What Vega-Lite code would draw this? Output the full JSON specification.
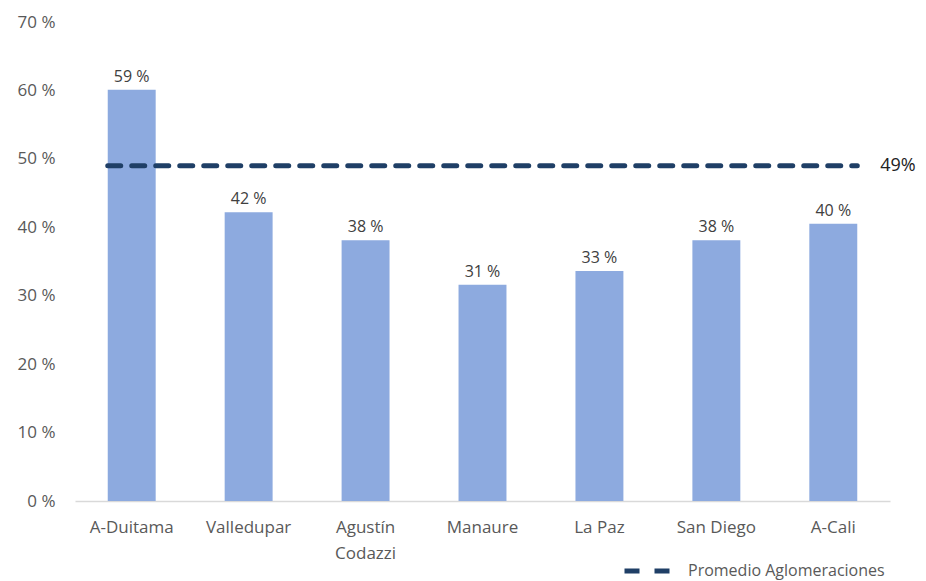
{
  "$schema": "https://vega.github.io/schema/vega-lite/v6.json",
  "autosize": "none",
  "width": 815,
  "height": 479,
  "padding": {"left": 75, "top": 22, "right": 36, "bottom": 80},
  "background": "white",
  "config": {"view": {"stroke": null}, "font": "Open Sans"},
  "datasets": {
    "bars": [
      {"city": "A-Duitama", "value": 60.1, "label": "59 %"},
      {"city": "Valledupar", "value": 42.2, "label": "42 %"},
      {"city": "Agustín Codazzi", "value": 38.1, "label": "38 %"},
      {"city": "Manaure", "value": 31.6, "label": "31 %"},
      {"city": "La Paz", "value": 33.6, "label": "33 %"},
      {"city": "San Diego", "value": 38.1, "label": "38 %"},
      {"city": "A-Cali", "value": 40.5, "label": "40 %"}
    ],
    "avg": [
      {"start": "A-Duitama", "end": "A-Cali", "avg": 49, "serie": "Promedio Aglomeraciones", "label": "49%"}
    ]
  },
  "layer": [
    {
      "data": {"name": "bars"},
      "mark": {"type": "bar", "color": "#8DAADF"},
      "encoding": {
        "x": {
          "field": "city", "type": "nominal",
          "scale": {
            "domain": ["A-Duitama", "Valledupar", "Agustín Codazzi", "Manaure", "La Paz", "San Diego", "A-Cali"],
            "paddingInner": 0.59, "paddingOuter": 0.28
          },
          "axis": {
            "title": null, "labelAngle": 0, "domain": true, "domainColor": "#D9D9D9", "domainWidth": 1.5,
            "ticks": false, "labelPadding": 18, "labelFontSize": 17, "labelColor": "#595959",
            "labelLineHeight": 26,
            "labelExpr": "datum.label == 'Agustín Codazzi' ? ['Agustín', 'Codazzi'] : datum.label"
          }
        },
        "y": {
          "field": "value", "type": "quantitative",
          "scale": {"domain": [0, 70]},
          "axis": {
            "title": null, "values": [0, 10, 20, 30, 40, 50, 60, 70], "grid": false, "domain": false,
            "ticks": false, "labelPadding": 20, "labelFontSize": 17, "labelColor": "#595959",
            "labelExpr": "datum.value + ' %'"
          }
        }
      }
    },
    {
      "data": {"name": "bars"},
      "mark": {"type": "text", "baseline": "bottom", "dy": -5, "fontSize": 16, "color": "#404040"},
      "encoding": {
        "x": {"field": "city", "type": "nominal"},
        "y": {"field": "value", "type": "quantitative"},
        "text": {"field": "label"}
      }
    },
    {
      "data": {"name": "avg"},
      "mark": {"type": "rule", "strokeWidth": 5, "strokeCap": "round", "strokeDash": [13, 11], "x2Offset": 24},
      "encoding": {
        "x": {"field": "start", "type": "nominal", "bandPosition": 0},
        "x2": {"field": "end"},
        "y": {"field": "avg", "type": "quantitative"},
        "color": {
          "field": "serie", "type": "nominal",
          "scale": {"range": ["#1F3F66"]},
          "legend": {
            "title": null, "orient": "none", "legendX": 547, "legendY": 522,
            "symbolType": "stroke", "symbolStrokeWidth": 5, "symbolDash": [15, 15], "symbolSize": 2400,
            "labelFontSize": 16, "labelColor": "#595959", "labelOffset": 12, "labelLimit": 0
          }
        }
      }
    },
    {
      "data": {"name": "avg"},
      "mark": {"type": "text", "align": "left", "baseline": "middle", "dx": 47, "fontSize": 18, "color": "#222222"},
      "encoding": {
        "x": {"field": "end", "type": "nominal"},
        "y": {"field": "avg", "type": "quantitative"},
        "text": {"field": "label"}
      }
    }
  ]
}
